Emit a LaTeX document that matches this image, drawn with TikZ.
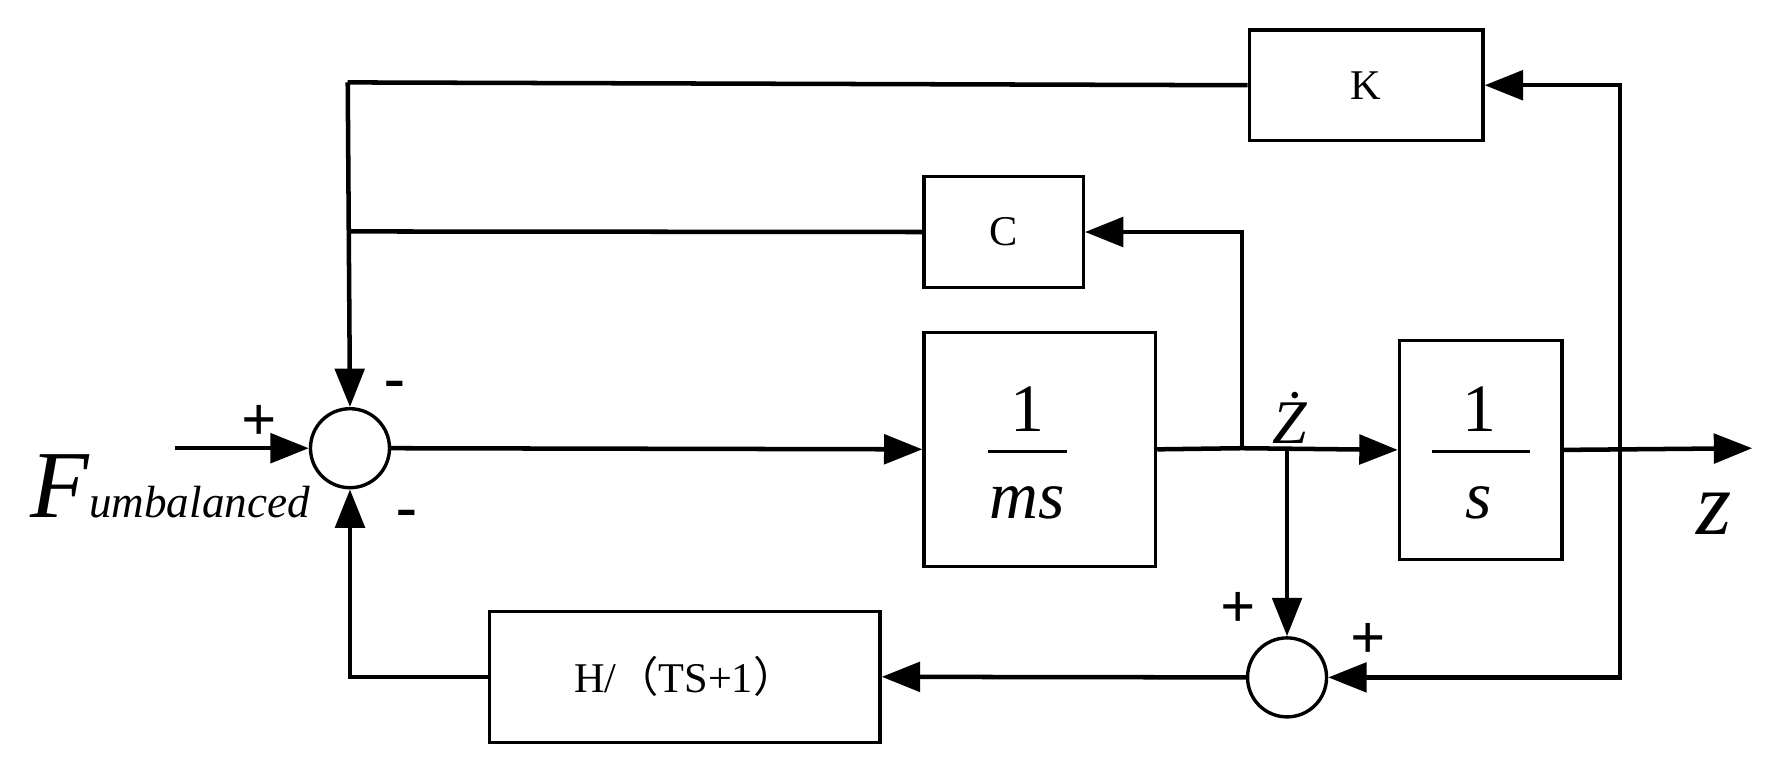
\documentclass[tikz,border=0pt]{standalone}
\usepackage{fontspec}
\setmainfont{Liberation Serif}
\newfontfamily\cjk{Noto Sans CJK SC}
\usetikzlibrary{arrows.meta}
\begin{document}
\begin{tikzpicture}[x=0.4pt,y=-0.4pt,
  line width=1.6pt,
  blk/.style={draw,line width=1.2pt,inner sep=0pt,anchor=north west},
  sumj/.style={draw,circle,line width=1.2pt,minimum size=28pt,inner sep=0pt},
  a/.style={-{Triangle[length=13.6pt,width=10.4pt]}},
  lb/.style={font=\fontsize{15}{18}\selectfont},
  big/.style={font=\fontsize{24}{28}\selectfont},
  bigi/.style={font=\fontsize{24}{28}\selectfont\itshape},
  sg/.style={font=\fontsize{22}{24}\selectfont\bfseries}]
\useasboundingbox (0,0) rectangle (1566,686);
\node[blk,minimum width=82.8pt,minimum height=39.2pt] (K) at (1105,25) {};
\node[lb] at (K.center) {K};
\node[blk,minimum width=56.4pt,minimum height=39.2pt] (C) at (817,155) {};
\node[lb] at (C.center) {C};
\node[blk,minimum width=82pt,minimum height=82.8pt] (M) at (817,293) {};
\node[big] (m1) at (910,362) {1};
\node[bigi] (m2) at (910,445) {ms};
\node[blk,minimum width=57.6pt,minimum height=77.6pt] (S) at (1238,300) {};
\node[big] (s1n) at (1310,362) {1};
\node[bigi] (s1d) at (1310,445) {s};
\node[blk,minimum width=138.4pt,minimum height=46.4pt] (H) at (432,540) {};
\node[lb] at (H.center) {H/{\cjk （}TS+1{\cjk ）}};
\node[sumj] (s1) at (310,397) {};
\node[sumj] (s2) at (1140,600) {};
\coordinate (in) at (155,397);
\coordinate (out) at (1552,397);
\coordinate (jc) at (1100,397);
\coordinate (jz) at (1140,397);
\coordinate (jo) at (1435,397);
\draw[line width=1.2pt] (875,400) -- (945,400);
\draw[line width=1.2pt] (1268,400) -- (1355,400);
\draw[a] (in) -- (s1.west);
\draw[a] (s1.east) -- (M.west);
\draw (M.east) -- (jc);
\draw[a] (jc) -- (S.west);
\draw[a] (S.east) -- (out);
\draw[a] (jc) |- (C.east);
\draw[a] (jz) -- (s2.north);
\draw[a] (jo) |- (K.east);
\draw[a] (jo) |- (s2.east);
\draw[a] (s2.west) -- (H.east);
\draw[a] (H.west) -| (s1.south);
\draw (K.west) -- (308,73);
\draw[a] (308,73) -- (s1.north);
\draw (C.west) -- (308,205);
\node[anchor=base west,inner sep=0pt,font=\fontsize{34}{38}\selectfont\itshape] at (25,458) {F\fontsize{16}{18}\selectfont umbalanced};
\node[font=\fontsize{32}{36}\selectfont\itshape] at (1518,455) {z};
\node[font=\fontsize{22}{26}\selectfont\itshape] at (1142,370) {\.{Z}};
\node[sg] at (230,375) {+};
\node[sg] at (350,345) {-};
\node[sg] at (360,460) {-};
\node[sg] at (1097,540) {+};
\node[sg] at (1212,568) {+};
\end{tikzpicture}
\end{document}
